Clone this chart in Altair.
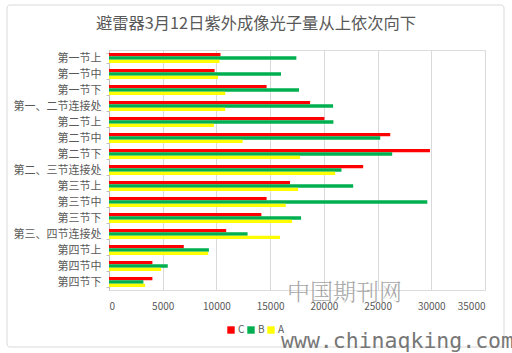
import altair as alt
import pandas as pd

categories = ["第一节上", "第一节中", "第一节下", "第一、二节连接处", "第二节上", "第二节中",
              "第二节下", "第二、三节连接处", "第三节上", "第三节中", "第三节下",
              "第三、四节连接处", "第四节上", "第四节中", "第四节下"]
series_C = [10380, 9830, 14670, 18720, 20050, 26180, 29880, 23660, 16850, 14670, 14180, 10910, 6960, 4040, 4040]
series_B = [17440, 16010, 17690, 20860, 20890, 25250, 26360, 21640, 22730, 29630, 17880, 12900, 9300, 5470, 3200]
series_A = [10290, 10140, 10820, 10820, 9760, 12440, 17780, 21050, 17600, 16450, 17040, 15920, 9230, 4850, 3360]
series_names = ["C", "B", "A"]
series_colors = ["#FF0000", "#00B050", "#FFFF00"]
x_ticks = [0, 5000, 10000, 15000, 20000, 25000, 30000, 35000]
title_text = "避雷器3月12日紫外成像光子量从上依次向下"

rows = []
for name, vals in zip(series_names, [series_C, series_B, series_A]):
    for cat, v in zip(categories, vals):
        rows.append({"节段": cat, "系列": name, "值": v})
df = pd.DataFrame(rows)

FONT = "Noto Sans CJK SC"
W, H = 376, 240

bars = alt.Chart(df).mark_bar().encode(
    x=alt.X("值:Q", scale=alt.Scale(domain=[0, 35000], nice=False),
            axis=alt.Axis(values=x_ticks, format="d", title=None, domain=False, ticks=False,
                          grid=True, gridColor="#d9d9d9", labelColor="#595959",
                          labelFontSize=10, labelPadding=11, labelFont=FONT)),
    y=alt.Y("节段:N", sort=categories,
            scale=alt.Scale(paddingInner=0.38, paddingOuter=0.19),
            axis=alt.Axis(title=None, domainColor="#bfbfbf", tickColor="#bfbfbf",
                          tickSize=3, tickBand="extent", labelColor="#595959",
                          labelFontSize=11, labelPadding=5, labelFont=FONT)),
    yOffset=alt.YOffset("系列:N", sort=series_names, scale=alt.Scale(paddingInner=0, paddingOuter=0)),
    color=alt.Color("系列:N", sort=series_names,
                    scale=alt.Scale(domain=series_names, range=series_colors),
                    legend=alt.Legend(title=None, orient="none", direction="horizontal",
                                      legendX=117, legendY=275, symbolType="square",
                                      symbolSize=55, symbolStrokeWidth=0, labelColor="#595959",
                                      labelFontSize=10, labelFont=FONT, columnPadding=1,
                                      labelOffset=2)),
)

title = alt.Chart(pd.DataFrame({"t": [title_text]})).mark_text(
    fontSize=16.3, color="#595959", font=FONT, align="center", baseline="middle"
).encode(text="t:N", x=alt.value(256 - 109), y=alt.value(24 - 50))

frame = alt.Chart(pd.DataFrame({"a": [0]})).mark_rect(
    fill=None, stroke="#d9d9d9", strokeWidth=1, cornerRadius=3
).encode(x=alt.value(7 - 109), x2=alt.value(504 - 109), y=alt.value(5 - 50), y2=alt.value(347 - 50))

wm1 = alt.Chart(pd.DataFrame({"t": ["中国期刊网"]})).mark_text(
    fontSize=23, color="#999999", opacity=0.85, font="Noto Serif CJK SC, Noto Sans CJK SC",
    fontWeight=300, align="left", baseline="middle"
).encode(text="t:N", x=alt.value(287 - 109), y=alt.value(293 - 50))

wm2 = alt.Chart(pd.DataFrame({"t": ["www.chinaqking.com"]})).mark_text(
    fontSize=21.5, color="#777777", font="DejaVu Sans Mono", align="left", baseline="middle"
).encode(text="t:N", x=alt.value(281 - 109), y=alt.value(342 - 50))

chart = alt.layer(frame, bars, title, wm1, wm2).properties(
    width=W, height=H,
    autosize=alt.AutoSizeParams(type="none"),
    padding={"left": 109, "top": 50, "right": 27, "bottom": 63},
).configure_view(stroke=None).configure(background="white")

chart.save("out.html", embed_options={"renderer": "svg", "actions": False})
